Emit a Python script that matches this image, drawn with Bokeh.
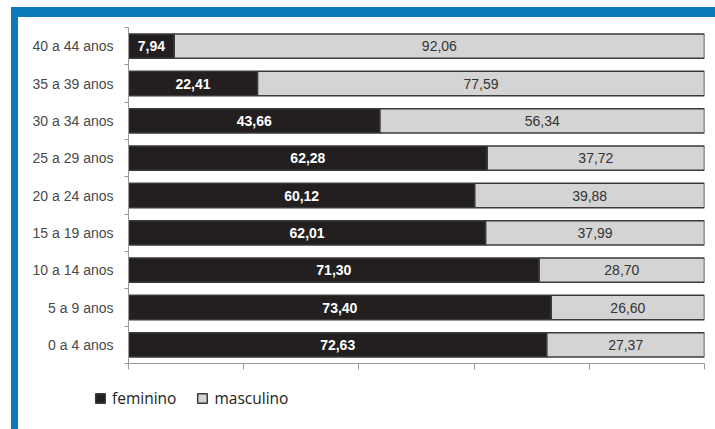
from bokeh.plotting import figure
from bokeh.layouts import column
from bokeh.models import ColumnDataSource, FixedTicker, Range1d, Legend, LegendItem, LabelSet
from bokeh.core.properties import value
from bokeh.embed import file_html
from bokeh.resources import INLINE

categories = ["0 a 4 anos", "5 a 9 anos", "10 a 14 anos", "15 a 19 anos", "20 a 24 anos",
              "25 a 29 anos", "30 a 34 anos", "35 a 39 anos", "40 a 44 anos"]
feminino = [72.63, 73.40, 71.30, 62.01, 60.12, 62.28, 43.66, 22.41, 7.94]
masculino = [27.37, 26.60, 28.70, 37.99, 39.88, 37.72, 56.34, 77.59, 92.06]
x_ticks = [0, 20, 40, 60, 80, 100]
series_names = ["feminino", "masculino"]

def fmt(v):
    return f"{v:.2f}".replace(".", ",")

y = [i + 0.5 for i in range(len(categories))]
src = ColumnDataSource(dict(
    y=y, fem=feminino,
    mend=[f + m for f, m in zip(feminino, masculino)],
    fem_mid=[f / 2 for f in feminino],
    masc_mid=[f + m / 2 for f, m in zip(feminino, masculino)],
    fem_lab=[fmt(v) for v in feminino],
    masc_lab=[fmt(v) for v in masculino],
))

FEM_COLOR = "#231f20"
MASC_COLOR = "#d4d4d4"
EDGE = "#3a3a3a"

p = figure(width=697, height=363, output_backend="svg", toolbar_location=None,
           x_range=Range1d(0, 100), y_range=Range1d(0, len(categories)),
           min_border_left=110, min_border_right=11, min_border_top=10, min_border_bottom=17)
p.outline_line_color = None
p.grid.grid_line_color = None
p.background_fill_color = "white"
p.border_fill_color = "white"

p.hbar(y="y", left=0, right="fem", height=0.65, source=src,
       fill_color=FEM_COLOR, line_color=EDGE, line_width=1.5)
p.hbar(y="y", left="fem", right="mend", height=0.65, source=src,
       fill_color=MASC_COLOR, line_color=EDGE, line_width=1.5)

p.add_layout(LabelSet(x="fem_mid", y="y", text="fem_lab", source=src,
                      text_align="center", text_baseline="middle",
                      text_color="white", text_font=value("Liberation Sans"),
                      text_font_style="bold", text_font_size="14px"))
p.add_layout(LabelSet(x="masc_mid", y="y", text="masc_lab", source=src,
                      text_align="center", text_baseline="middle",
                      text_color="#333333", text_font=value("Liberation Sans"),
                      text_font_size="14px"))

# x axis: ticks, no labels
p.xaxis.ticker = FixedTicker(ticks=x_ticks)
p.xaxis.major_label_overrides = {t: "" for t in x_ticks}
p.xaxis.major_label_text_font_size = "1px"
p.xaxis.major_label_standoff = 0
p.xaxis.major_tick_in = 0
p.xaxis.major_tick_out = 6
p.xaxis.minor_tick_line_color = None
p.xaxis.axis_line_color = "#999999"
p.xaxis.major_tick_line_color = "#999999"

# y axis: labels at centres, ticks at boundaries
p.yaxis.ticker = FixedTicker(ticks=y, minor_ticks=list(range(len(categories) + 1)))
p.yaxis.major_label_overrides = {v: c for v, c in zip(y, categories)}
p.yaxis.major_tick_line_color = None
p.yaxis.major_tick_in = 0
p.yaxis.major_tick_out = 0
p.yaxis.minor_tick_in = 0
p.yaxis.minor_tick_out = 4
p.yaxis.minor_tick_line_color = "#999999"
p.yaxis.axis_line_color = "#999999"
p.yaxis.major_label_standoff = 11
p.yaxis.major_label_text_font = "Liberation Sans"
p.yaxis.major_label_text_font_size = "14px"
p.yaxis.major_label_text_color = "#4a4a4a"

# legend strip (separate figure; its renderers are hidden, only the legend shows)
p2 = figure(width=697, height=49, output_backend="svg", toolbar_location=None,
            x_range=Range1d(0, 100), y_range=Range1d(0, len(categories)),
            x_axis_location=None, y_axis_location=None,
            min_border=0, min_border_left=0, min_border_right=0,
            min_border_top=0, min_border_bottom=0,
            styles={"transform": "translateX(-34px)"})
p2.outline_line_color = None
p2.grid.grid_line_color = None
p2.background_fill_color = None
p2.border_fill_color = None
lf = p2.hbar(y="y", left=0, right="fem", height=0.65, source=src,
             fill_color=FEM_COLOR, line_color=EDGE, line_width=1.5, visible=False)
lm = p2.hbar(y="y", left="fem", right="mend", height=0.65, source=src,
             fill_color=MASC_COLOR, line_color=EDGE, line_width=1.5, visible=False)
legend = Legend(items=[LegendItem(label=series_names[0], renderers=[lf]),
                       LegendItem(label=series_names[1], renderers=[lm])],
                orientation="horizontal", location=(0, 20),
                padding=0, margin=0, spacing=20, label_standoff=6,
                glyph_width=12, glyph_height=12,
                border_line_color=None, background_fill_alpha=0,
                label_text_font="Open Sans", label_text_font_size="15.5px",
                label_text_color="#222222")
p2.add_layout(legend)

page = column(p, p2, spacing=0,
              styles={"border-top": "10px solid #0a7ab8", "border-left": "7px solid #0a7ab8",
                      "margin-top": "7px", "margin-left": "11px"})

open("out.html", "w").write(file_html(page, INLINE))
